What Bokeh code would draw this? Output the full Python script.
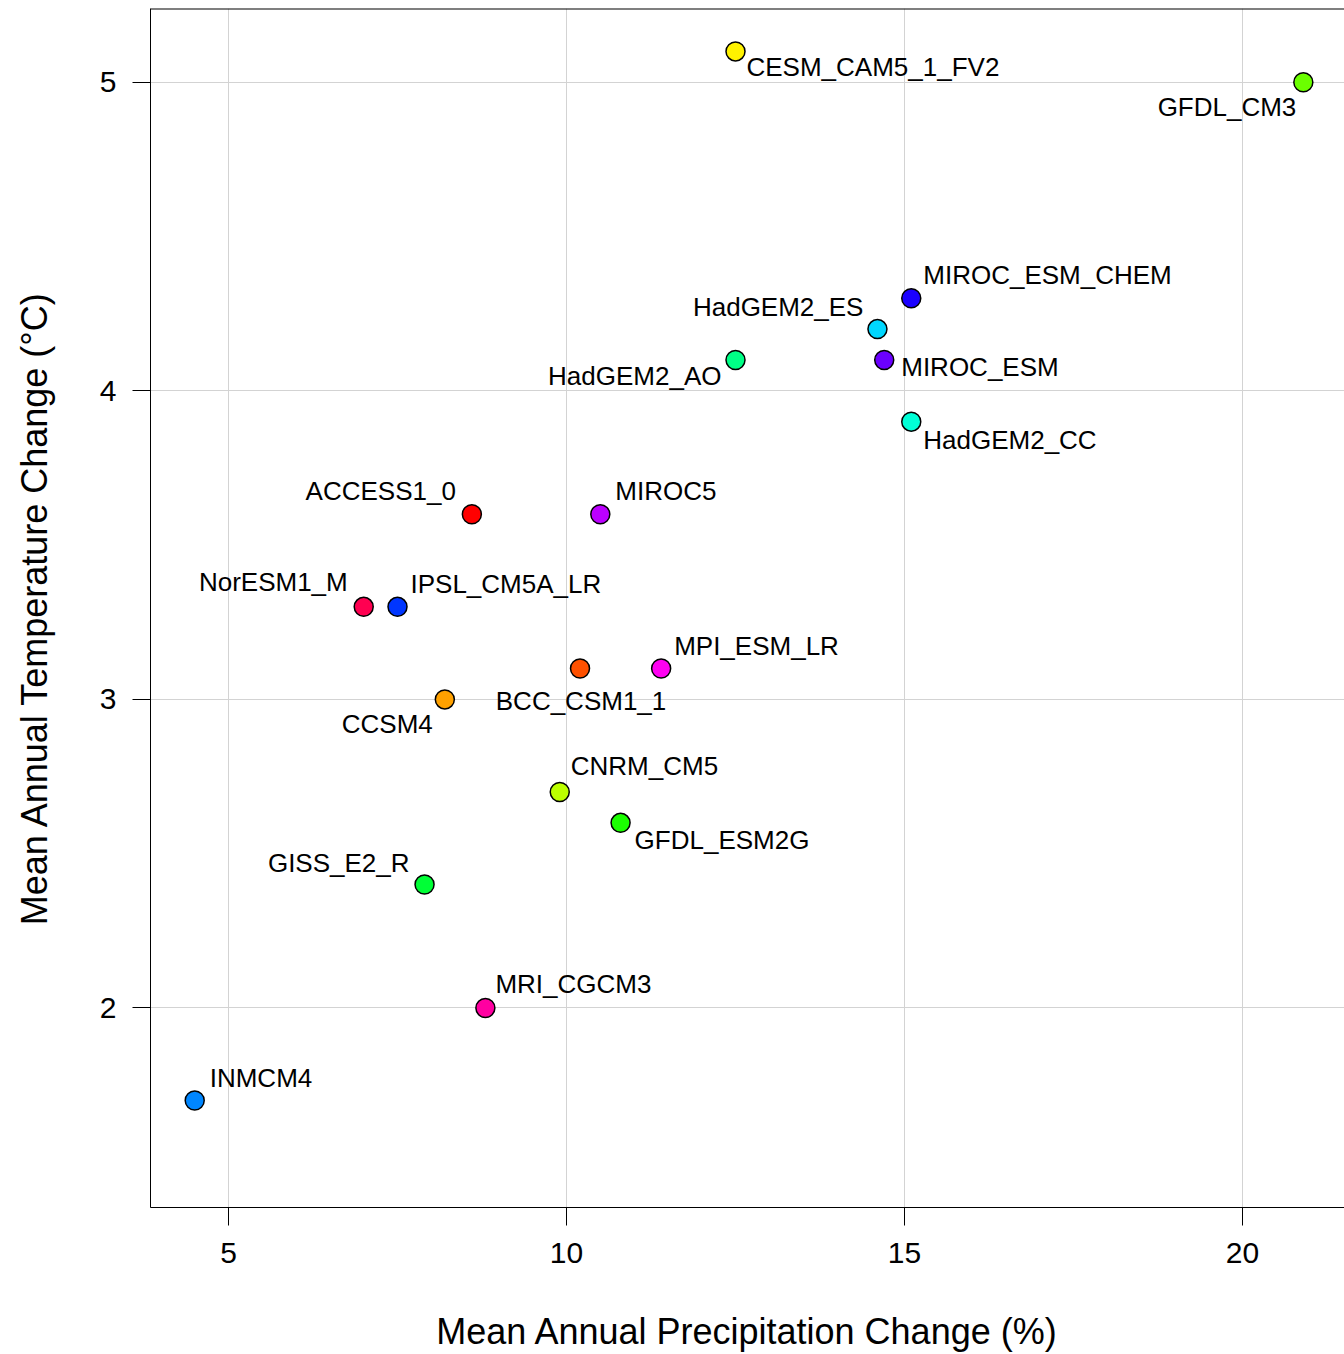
from bokeh.plotting import figure
from bokeh.models import ColumnDataSource, FixedTicker, Range1d, Span
from bokeh.embed import file_html
from bokeh.resources import INLINE
from bokeh.core.properties import value

# ---- data ----
models = ["ACCESS1_0", "BCC_CSM1_1", "CCSM4", "CESM_CAM5_1_FV2", "CNRM_CM5",
          "GFDL_CM3", "GFDL_ESM2G", "GISS_E2_R", "HadGEM2_AO", "HadGEM2_CC",
          "HadGEM2_ES", "INMCM4", "IPSL_CM5A_LR", "MIROC_ESM_CHEM", "MIROC_ESM",
          "MIROC5", "MPI_ESM_LR", "MRI_CGCM3", "NorESM1_M"]
precip = [8.6, 10.2, 8.2, 12.5, 9.9, 20.9, 10.8, 7.9, 12.5, 15.1,
          14.6, 4.5, 7.5, 15.1, 14.7, 10.5, 11.4, 8.8, 7.0]
temp = [3.6, 3.1, 3.0, 5.1, 2.7, 5.0, 2.6, 2.4, 4.1, 3.9,
        4.2, 1.7, 3.3, 4.3, 4.1, 3.6, 3.1, 2.0, 3.3]
x_ticks = [5, 10, 15, 20]
y_ticks = [2, 3, 4, 5]

# ---- styles ----
colors = ["#FF0000", "#FF5100", "#FFA100", "#FFF200", "#BCFF00", "#6BFF00",
          "#1BFF00", "#00FF36", "#00FF86", "#00FFD7", "#00D7FF", "#0086FF",
          "#0036FF", "#1B00FF", "#6B00FF", "#BC00FF", "#FF00F2", "#FF00A1",
          "#FF0051"]
label_dx = [-16, 1, -12, 11, 11, -7, 14, -15, -14, 12, -14, 15, 13, 12, 17, 15, 13, 10, -16]
label_dy = [-23, 32, 25, 16, -26, 25, 17, -22, 16, 18, -22, -23, -23, -23, 7, -23, -23, -24, -25]
label_align = ["right", "center", "right", "left", "left", "right", "left", "right",
               "right", "left", "right", "left", "left", "left", "left", "left",
               "left", "left", "right"]

FONT = "Liberation Sans"
Y_TOP = 5.239

p = figure(width=1344, height=1354, output_backend="svg", toolbar_location=None,
           x_range=Range1d(3.846, 21.509), y_range=Range1d(1.3534, Y_TOP),
           min_border_left=150, min_border_right=0, min_border_top=8,
           min_border_bottom=144)
p.background_fill_color = "white"
p.border_fill_color = "white"
p.outline_line_color = None

for ax, ticks in ((p.xaxis, x_ticks), (p.yaxis, y_ticks)):
    ax.ticker = FixedTicker(ticks=ticks)
    ax.minor_tick_line_color = None
    ax.major_tick_in = 0
    ax.major_tick_out = 18
    ax.major_tick_line_color = "black"
    ax.axis_line_color = "black"
    ax.major_label_text_font = FONT
    ax.major_label_text_font_size = "30px"
    ax.major_label_text_color = "black"
    ax.axis_label_text_font = FONT
    ax.axis_label_text_font_size = "36px"
    ax.axis_label_text_font_style = "normal"
    ax.axis_label_text_color = "black"

p.xaxis.axis_label = "Mean Annual Precipitation Change (%)"
p.yaxis.axis_label = "Mean Annual Temperature Change (°C)"
p.xaxis.major_label_standoff = 17
p.xaxis.axis_label_standoff = 45
p.yaxis.major_label_standoff = 16
p.yaxis.axis_label_standoff = 42

p.xgrid.ticker = FixedTicker(ticks=x_ticks)
p.ygrid.ticker = FixedTicker(ticks=y_ticks)
p.grid.grid_line_color = "#D3D3D3"
p.grid.grid_line_width = 1

# top border of the frame (no right border in the original)
p.add_layout(Span(location=Y_TOP, dimension="width", line_color="black", line_width=2))

src = ColumnDataSource(dict(x=precip, y=temp, c=colors, name=models))
p.scatter("x", "y", source=src, size=19, fill_color="c", line_color="black", line_width=1.5)

for al in ("left", "right", "center"):
    idx = [i for i, a in enumerate(label_align) if a == al]
    s = ColumnDataSource(dict(
        x=[precip[i] for i in idx], y=[temp[i] for i in idx],
        t=[models[i] for i in idx],
        dx=[label_dx[i] for i in idx], dy=[label_dy[i] for i in idx]))
    p.text("x", "y", text="t", source=s, x_offset="dx", y_offset="dy",
           text_align=al, text_baseline="middle", text_font=value(FONT),
           text_font_size="26px", text_color="black")

open("out.html", "w").write(file_html(p, INLINE))
